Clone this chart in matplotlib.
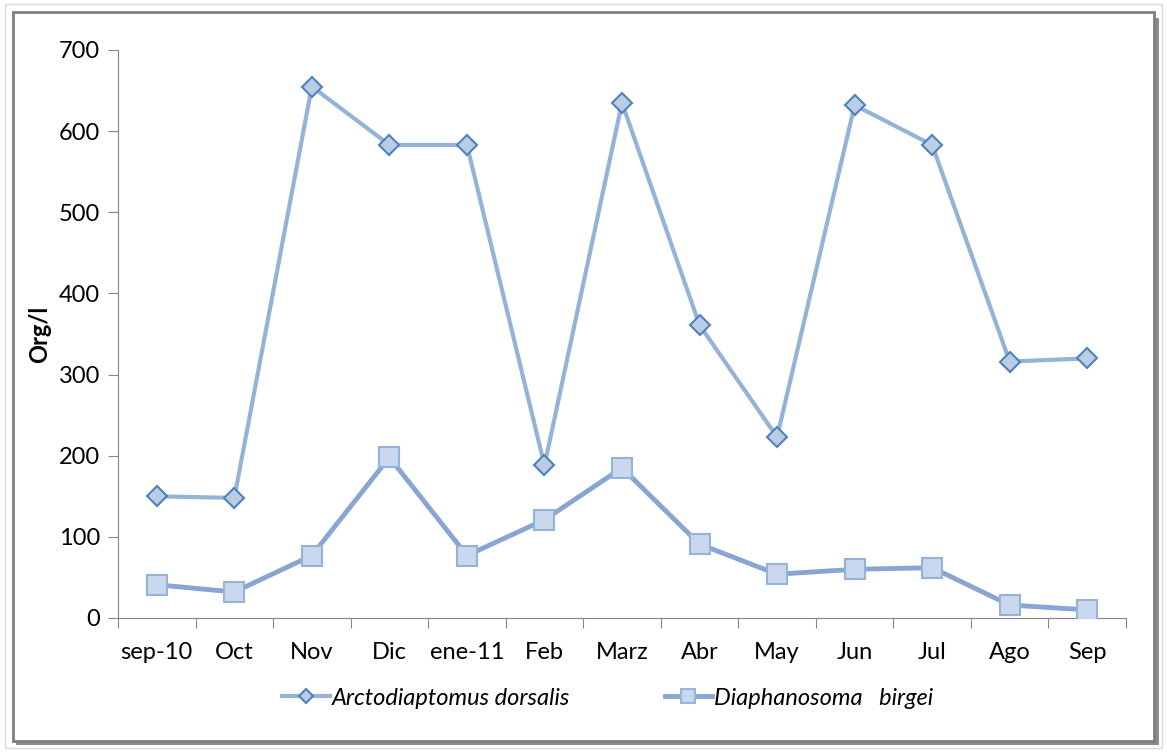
import matplotlib.pyplot as plt
import numpy as np
from matplotlib.patches import Rectangle

months = ['sep-10', 'Oct', 'Nov', 'Dic', 'ene-11', 'Feb', 'Marz', 'Abr',
          'May', 'Jun', 'Jul', 'Ago', 'Sep']
arctodiaptomus = [150, 148, 655, 583, 583, 188, 635, 361, 223, 632, 583, 316, 320]
diaphanosoma = [41, 32, 77, 198, 77, 121, 185, 91, 54, 60, 62, 16, 10]

plt.rcParams['font.family'] = ['Lato', 'DejaVu Sans']

fig = plt.figure(figsize=(11.67, 7.53), dpi=100)

# marco del gráfico (borde gris con sombra)
frame = [
    Rectangle((5 / 1167, 5 / 753), 1157 / 1167, 744 / 753, fill=False,
              edgecolor='#D9D9D9', linewidth=1),
    Rectangle((16 / 1167, 8 / 753), 1143 / 1167, 727 / 753,
              facecolor='#8C8C8C', edgecolor='none'),
    Rectangle((13 / 1167, 12 / 753), 1141 / 1167, 729 / 753,
              facecolor='white', edgecolor='#7F7F7F', linewidth=2),
]
for p in frame:
    p.set_transform(fig.transFigure)
    p.set_zorder(-5)
    fig.patches.append(p)

ax = fig.add_axes([118 / 1167, 135 / 753, 1008 / 1167, 568 / 753])
ax.set_facecolor('none')
x = np.arange(len(months))

ax.plot(x, arctodiaptomus, color='#95B3D7', linewidth=3, marker='D',
        markersize=10, markerfacecolor='#B9CDE5', markeredgecolor='#4F81BD',
        markeredgewidth=1.5, label='Arctodiaptomus dorsalis', zorder=3)
ax.plot(x, diaphanosoma, color='#8AA5D3', linewidth=3.5, marker='s',
        markersize=15, markerfacecolor='#C9D8EE', markeredgecolor='#95B3D7',
        markeredgewidth=1.5, label='Diaphanosoma   birgei', zorder=3)

ax.set_xlim(-0.5, len(months) - 0.5)
ax.set_ylim(0, 700)
ax.set_yticks(np.arange(0, 701, 100))
ax.set_xticks(np.arange(-0.5, len(months), 1))
ax.set_xticklabels([])
ax.set_xticks(x, minor=True)
ax.set_xticklabels(months, minor=True)
ax.tick_params(axis='x', which='minor', length=0, pad=17, labelsize=17)
ax.tick_params(axis='x', which='major', length=7, color='#868686')
ax.tick_params(axis='y', length=7, color='#868686', labelsize=17, pad=6)

for side in ['top', 'right']:
    ax.spines[side].set_visible(False)
for side in ['left', 'bottom']:
    ax.spines[side].set_color('#868686')

ax.set_ylabel('Org/l', fontsize=17, fontweight='bold', labelpad=5)

fig.legend(loc='center', bbox_to_anchor=(0.521, 0.073), ncol=2, frameon=False,
           prop={'style': 'italic', 'size': 17}, columnspacing=4,
           handlelength=2.0, handletextpad=0.1, markerscale=0.7)

fig.savefig('out.png', dpi=100)
